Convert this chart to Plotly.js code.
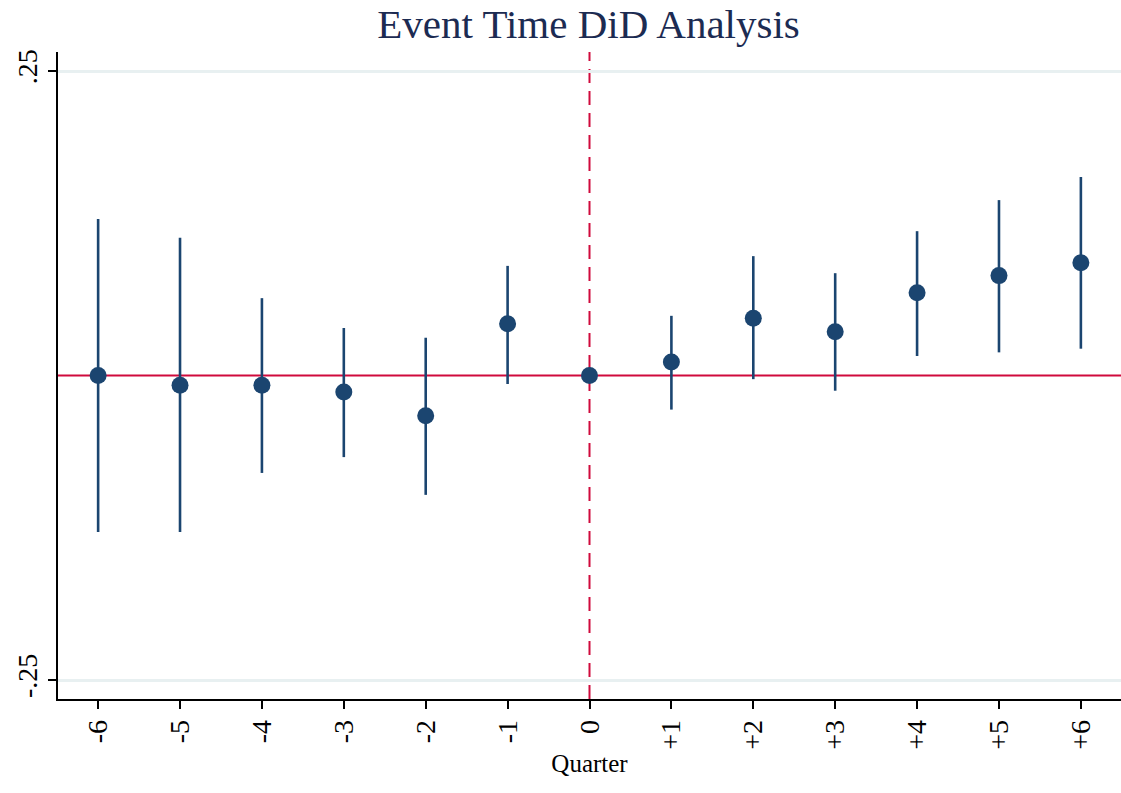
<!DOCTYPE html>
<html>
<head>
<meta charset="utf-8">
<script src="https://cdn.plot.ly/plotly-3.0.1.min.js"></script>
<style>html,body{margin:0;padding:0;background:#fff;}#chart{width:1121px;height:793px;}</style>
</head>
<body>
<div id="chart"></div>
<script>
var eventTime = [-6, -5, -4, -3, -2, -1, 0, 1, 2, 3, 4, 5, 6];
var quarters = ['-6','-5','-4','-3','-2','-1','0','+1','+2','+3','+4','+5','+6'];
var estimates = [0.000, -0.008, -0.008, -0.0135, -0.033, 0.0425, 0.000, 0.011, 0.047, 0.036, 0.068, 0.082, 0.0925];
var ciUpper = [0.1285, 0.113, 0.0635, 0.039, 0.031, 0.090, 0.000, 0.049, 0.098, 0.084, 0.1185, 0.144, 0.163];
var ciLower = [-0.1285, -0.1285, -0.080, -0.067, -0.098, -0.007, 0.000, -0.028, -0.003, -0.0125, 0.016, 0.019, 0.022];
var yTickVals = [-0.25, 0.25];
var yTickText = ['-.25', '.25'];

var errPlus = estimates.map(function(v, i){ return ciUpper[i] - v; });
var errMinus = estimates.map(function(v, i){ return v - ciLower[i]; });

// map Plotly's auto-formatted labels to the reference's labels
var xAlias = {};
eventTime.forEach(function(t, i){
  var s = (t > 0 ? '+' : '') + String(t);
  xAlias[s] = quarters[i];
  xAlias[s.replace('-', '\u2212')] = quarters[i];
  if (t === 0) { xAlias['+0'] = quarters[i]; xAlias['-0'] = quarters[i]; }
});
var yAlias = {};
yTickVals.forEach(function(v, i){
  var s = v.toFixed(2);
  yAlias[s] = yTickText[i];
  yAlias[s.replace('-', '\u2212')] = yTickText[i];
});

var navy = '#1b4570';
var red = '#d00a3c';
var serif = 'Liberation Serif';

var trace = {
  type: 'scatter',
  mode: 'markers',
  x: eventTime,
  y: estimates,
  marker: {color: navy, size: 17},
  error_y: {type: 'data', symmetric: false, array: errPlus, arrayminus: errMinus, color: navy, thickness: 2.6, width: 0},
  hoverinfo: 'x+y',
  showlegend: false
};

var layout = {
  width: 1121, height: 793,
  margin: {l: 58, r: 0, t: 52, b: 94},
  paper_bgcolor: '#ffffff',
  plot_bgcolor: '#ffffff',
  font: {family: serif, color: '#000'},
  title: {text: 'Event Time DiD Analysis', font: {family: serif, size: 41, color: '#1c2b52'}, x: 0.525, xanchor: 'center', y: 0.97, yanchor: 'middle'},
  xaxis: {
    range: [-6.49, 6.49],
    tickmode: 'linear', tick0: -6, dtick: 1,
    tickformat: '+d',
    labelalias: xAlias,
    tickangle: -90,
    tickfont: {family: serif, size: 28, color: '#000'},
    ticks: 'outside', ticklen: 8, tickwidth: 1.5, tickcolor: '#000',
    showline: true, linecolor: '#000', linewidth: 1.5,
    showgrid: false, zeroline: false,
    title: {text: 'Quarter', font: {family: serif, size: 25, color: '#000'}, standoff: 6}
  },
  yaxis: {
    range: [-0.2656, 0.2656],
    tickmode: 'linear', tick0: yTickVals[0], dtick: yTickVals[1] - yTickVals[0],
    tickformat: '.2f',
    labelalias: yAlias,
    tickangle: -90,
    tickfont: {family: serif, size: 28, color: '#000'},
    ticks: 'outside', ticklen: 8, tickwidth: 1.5, tickcolor: '#000',
    showline: true, linecolor: '#000', linewidth: 1.5,
    showgrid: true, gridcolor: '#e8f0f1', gridwidth: 2.5,
    zeroline: false
  },
  shapes: [
    {type: 'line', xref: 'paper', x0: 0, x1: 1, yref: 'y', y0: 0, y1: 0, line: {color: red, width: 2}, layer: 'below'},
    {type: 'line', xref: 'x', x0: 0, x1: 0, yref: 'paper', y0: 0, y1: 1, line: {color: red, width: 2, dash: '14px,8px'}, layer: 'below'}
  ]
};

Plotly.newPlot('chart', [trace], layout, {displayModeBar: false});
</script>
</body>
</html>
